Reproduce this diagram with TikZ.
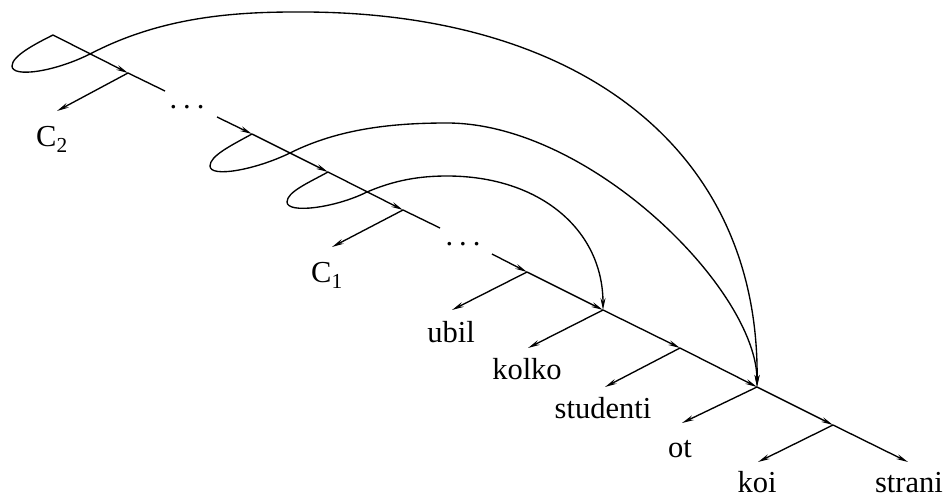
\documentclass[tikz,border=0pt]{standalone}
\usepackage{fontspec}
\setmainfont{Liberation Serif}
\usetikzlibrary{arrows.meta}
\begin{document}
\begin{tikzpicture}[x=1pt,y=-1pt, line width=1.35pt,
  arr/.style={-{Stealth[length=12pt,width=5pt,inset=4pt]}},
  lab/.style={anchor=base, inner sep=0pt, font=\fontsize{30.5}{36}\selectfont}]
\useasboundingbox (0,0) rectangle (948,497);
% spine points
\coordinate (A0) at (53,35);
\coordinate (A1) at (128,73);
\coordinate (Ae) at (165,91);
\coordinate (B0) at (217,117);
\coordinate (B1) at (252,134);
\coordinate (B2) at (328,172);
\coordinate (B3) at (403,210);
\coordinate (Be) at (440,228);
\coordinate (D0) at (492,254);
\coordinate (D1) at (527,272);
\coordinate (D2) at (603,310);
\coordinate (D3) at (680,348);
\coordinate (D4) at (757,387);
\coordinate (D5) at (833,425);
\coordinate (D6) at (908,462);
% branch tips
\coordinate (tC2) at (57,111);
\coordinate (tC1) at (332,247);
\coordinate (tU) at (452,310);
\coordinate (tK) at (528,348);
\coordinate (tS) at (605,387);
\coordinate (tO) at (682,423);
\coordinate (tKo) at (758,462);
% labels
\node[lab] (C2) at (52,147) {C\textsubscript{2}};
\node[lab] (C1) at (327,283) {C\textsubscript{1}};
\node[lab] (ubil) at (451,342) {ubil};
\node[lab] (kolko) at (527,379) {kolko};
\node[lab] (studenti) at (603,418) {studenti};
\node[lab] (ot) at (680,457) {ot};
\node[lab] (koi) at (757,492) {koi};
\node[lab] (strani) at (909,492) {strani};
\node[lab] (dots1) at (187,109) {.\kern6pt.\kern6pt.};
\node[lab] (dots2) at (463,246) {.\kern6pt.\kern6pt.};
% spine
\draw[arr] (A0) -- (A1);
\draw (A1) -- (Ae);
\draw[arr] (B0) -- (B1);
\draw[arr] (B1) -- (B2);
\draw[arr] (B2) -- (B3);
\draw (B3) -- (Be);
\draw[arr] (D0) -- (D1);
\draw[arr] (D1) -- (D2);
\draw[arr] (D2) -- (D3);
\draw[arr] (D3) -- (D4);
\draw[arr] (D4) -- (D5);
\draw[arr] (D5) -- (D6);
% branches
\draw[arr] (A1) -- (tC2);
\draw[arr] (B3) -- (tC1);
\draw[arr] (D1) -- (tU);
\draw[arr] (D2) -- (tK);
\draw[arr] (D3) -- (tS);
\draw[arr] (D4) -- (tO);
\draw[arr] (D5) -- (tKo);
% arcs
\draw[arr] (A0) .. controls (35,44) and (12,56) .. (12,66)
  .. controls (12,78) and (55,72) .. (92,53)
  .. controls (160,18) and (230,12) .. (295,12)
  .. controls (580,10) and (760,150) .. (D4);
\draw[arr] (B1) .. controls (230,146) and (210,156) .. (210,166)
  .. controls (210,178) and (255,170) .. (290,153)
  .. controls (340,128) and (395,123) .. (447,123)
  .. controls (590,123) and (757,290) .. (D4);
\draw[arr] (B2) .. controls (308,183) and (287,192) .. (287,202)
  .. controls (287,214) and (335,208) .. (367,192)
  .. controls (395,180) and (420,176) .. (447,176)
  .. controls (540,176) and (603,230) .. (D2);
\end{tikzpicture}
\end{document}
